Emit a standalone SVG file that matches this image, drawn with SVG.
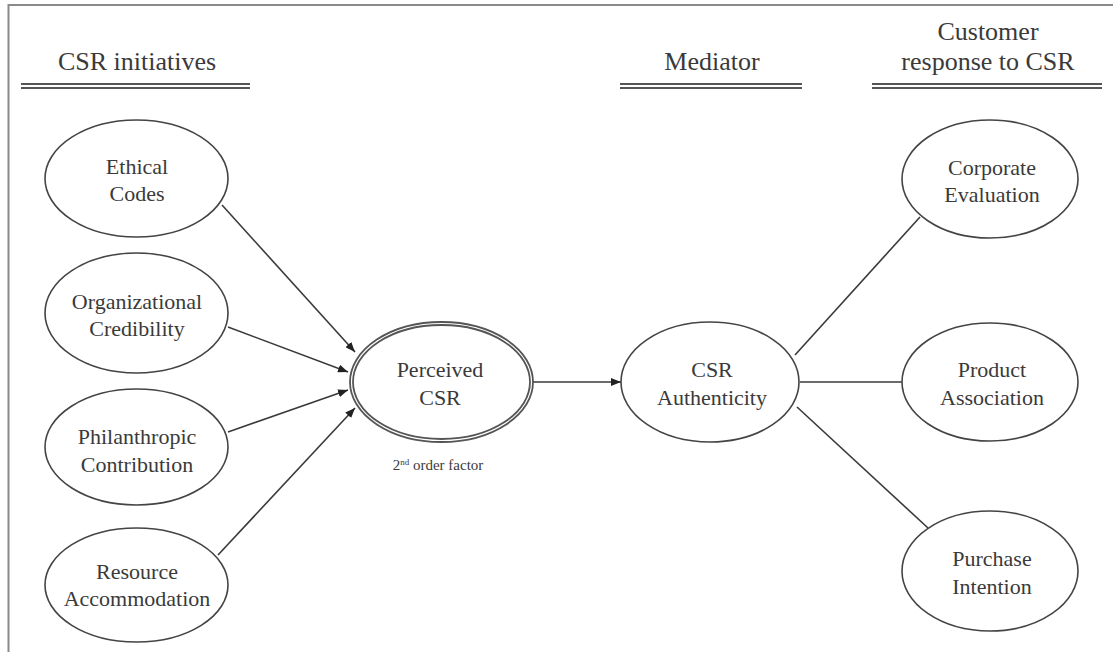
<svg xmlns="http://www.w3.org/2000/svg" width="1113" height="652" viewBox="0 0 1113 652">
<defs>
<style>
.bg{fill:#ffffff}
.frame{stroke:#8a8a8a;stroke-width:2;fill:none}
.hdr{font-family:"Liberation Serif","Times New Roman",serif;font-size:26px;fill:#3a3a3a;text-anchor:middle}
.hline{stroke:#555;stroke-width:1.8}
.node ellipse{fill:#ffffff;stroke:#444;stroke-width:1.6}
.lbl{font-family:"Liberation Serif","Times New Roman",serif;font-size:22px;fill:#3a3a3a;text-anchor:middle}
.small{font-family:"Liberation Serif","Times New Roman",serif;font-size:15px;fill:#3a3a3a;text-anchor:middle}
.conn line{stroke:#3a3a3a;stroke-width:1.6}
.arr{marker-end:url(#ah)}
</style>
<marker id="ah" viewBox="0 0 10 8" refX="10" refY="4" markerWidth="10" markerHeight="8" markerUnits="userSpaceOnUse" orient="auto">
<path d="M0,0 L10,4 L0,8 Z" fill="#222"/>
</marker>
</defs>
<rect class="bg" x="0" y="0" width="1113" height="652"/>
<path class="frame" d="M8.5,652 L8.5,5 L1113,5"/>

<g id="headers">
<text class="hdr" x="137" y="70">CSR initiatives</text>
<line class="hline" x1="21" y1="84" x2="250" y2="84"/>
<line class="hline" x1="21" y1="88" x2="250" y2="88"/>
<text class="hdr" x="712" y="70">Mediator</text>
<line class="hline" x1="620" y1="84" x2="802" y2="84"/>
<line class="hline" x1="620" y1="88" x2="802" y2="88"/>
<text class="hdr" x="988" y="40">Customer</text>
<text class="hdr" x="988" y="70">response to CSR</text>
<line class="hline" x1="872" y1="84" x2="1102" y2="84"/>
<line class="hline" x1="872" y1="88" x2="1102" y2="88"/>
</g>

<g id="connectors" class="conn">
<line class="arr" x1="222" y1="205" x2="355" y2="352"/>
<line class="arr" x1="228" y1="327" x2="348" y2="372"/>
<line class="arr" x1="228" y1="432" x2="348" y2="390"/>
<line class="arr" x1="218" y1="555" x2="355" y2="408"/>
<line class="arr" x1="533" y1="382" x2="621" y2="382"/>
<line x1="795" y1="355" x2="920" y2="217"/>
<line x1="800" y1="382" x2="902" y2="382"/>
<line x1="797" y1="407" x2="928" y2="528"/>
</g>

<g id="ethical-codes" class="node">
<ellipse cx="136.5" cy="178.5" rx="91.5" ry="58.5"/>
<text class="lbl" x="137" y="174">Ethical</text>
<text class="lbl" x="137" y="201">Codes</text>
</g>
<g id="organizational-credibility" class="node">
<ellipse cx="136.5" cy="313" rx="91.5" ry="60"/>
<text class="lbl" x="137" y="309">Organizational</text>
<text class="lbl" x="137" y="336">Credibility</text>
</g>
<g id="philanthropic-contribution" class="node">
<ellipse cx="136.5" cy="447" rx="91.5" ry="58"/>
<text class="lbl" x="137" y="444">Philanthropic</text>
<text class="lbl" x="137" y="472">Contribution</text>
</g>
<g id="resource-accommodation" class="node">
<ellipse cx="136.5" cy="585" rx="91.5" ry="57"/>
<text class="lbl" x="137" y="579">Resource</text>
<text class="lbl" x="137" y="606">Accommodation</text>
</g>

<g id="perceived-csr" class="node">
<ellipse cx="441.5" cy="382" rx="91.5" ry="60" style="stroke:#555;stroke-width:1.8"/>
<ellipse cx="441.5" cy="382" rx="88.5" ry="57" style="stroke:#555;stroke-width:1.8"/>
<text class="lbl" x="440" y="377">Perceived</text>
<text class="lbl" x="440" y="405">CSR</text>
<text class="small" x="438" y="470">2<tspan font-size="9" dy="-5">nd</tspan><tspan dy="5"> order factor</tspan></text>
</g>

<g id="csr-authenticity" class="node">
<ellipse cx="710" cy="382" rx="89" ry="60"/>
<text class="lbl" x="712" y="377">CSR</text>
<text class="lbl" x="712" y="405">Authenticity</text>
</g>

<g id="corporate-evaluation" class="node">
<ellipse cx="990" cy="179" rx="88" ry="59"/>
<text class="lbl" x="992" y="175">Corporate</text>
<text class="lbl" x="992" y="202">Evaluation</text>
</g>
<g id="product-association" class="node">
<ellipse cx="990" cy="382" rx="88" ry="59"/>
<text class="lbl" x="992" y="377">Product</text>
<text class="lbl" x="992" y="405">Association</text>
</g>
<g id="purchase-intention" class="node">
<ellipse cx="990" cy="571" rx="88" ry="60"/>
<text class="lbl" x="992" y="566">Purchase</text>
<text class="lbl" x="992" y="594">Intention</text>
</g>
</svg>
